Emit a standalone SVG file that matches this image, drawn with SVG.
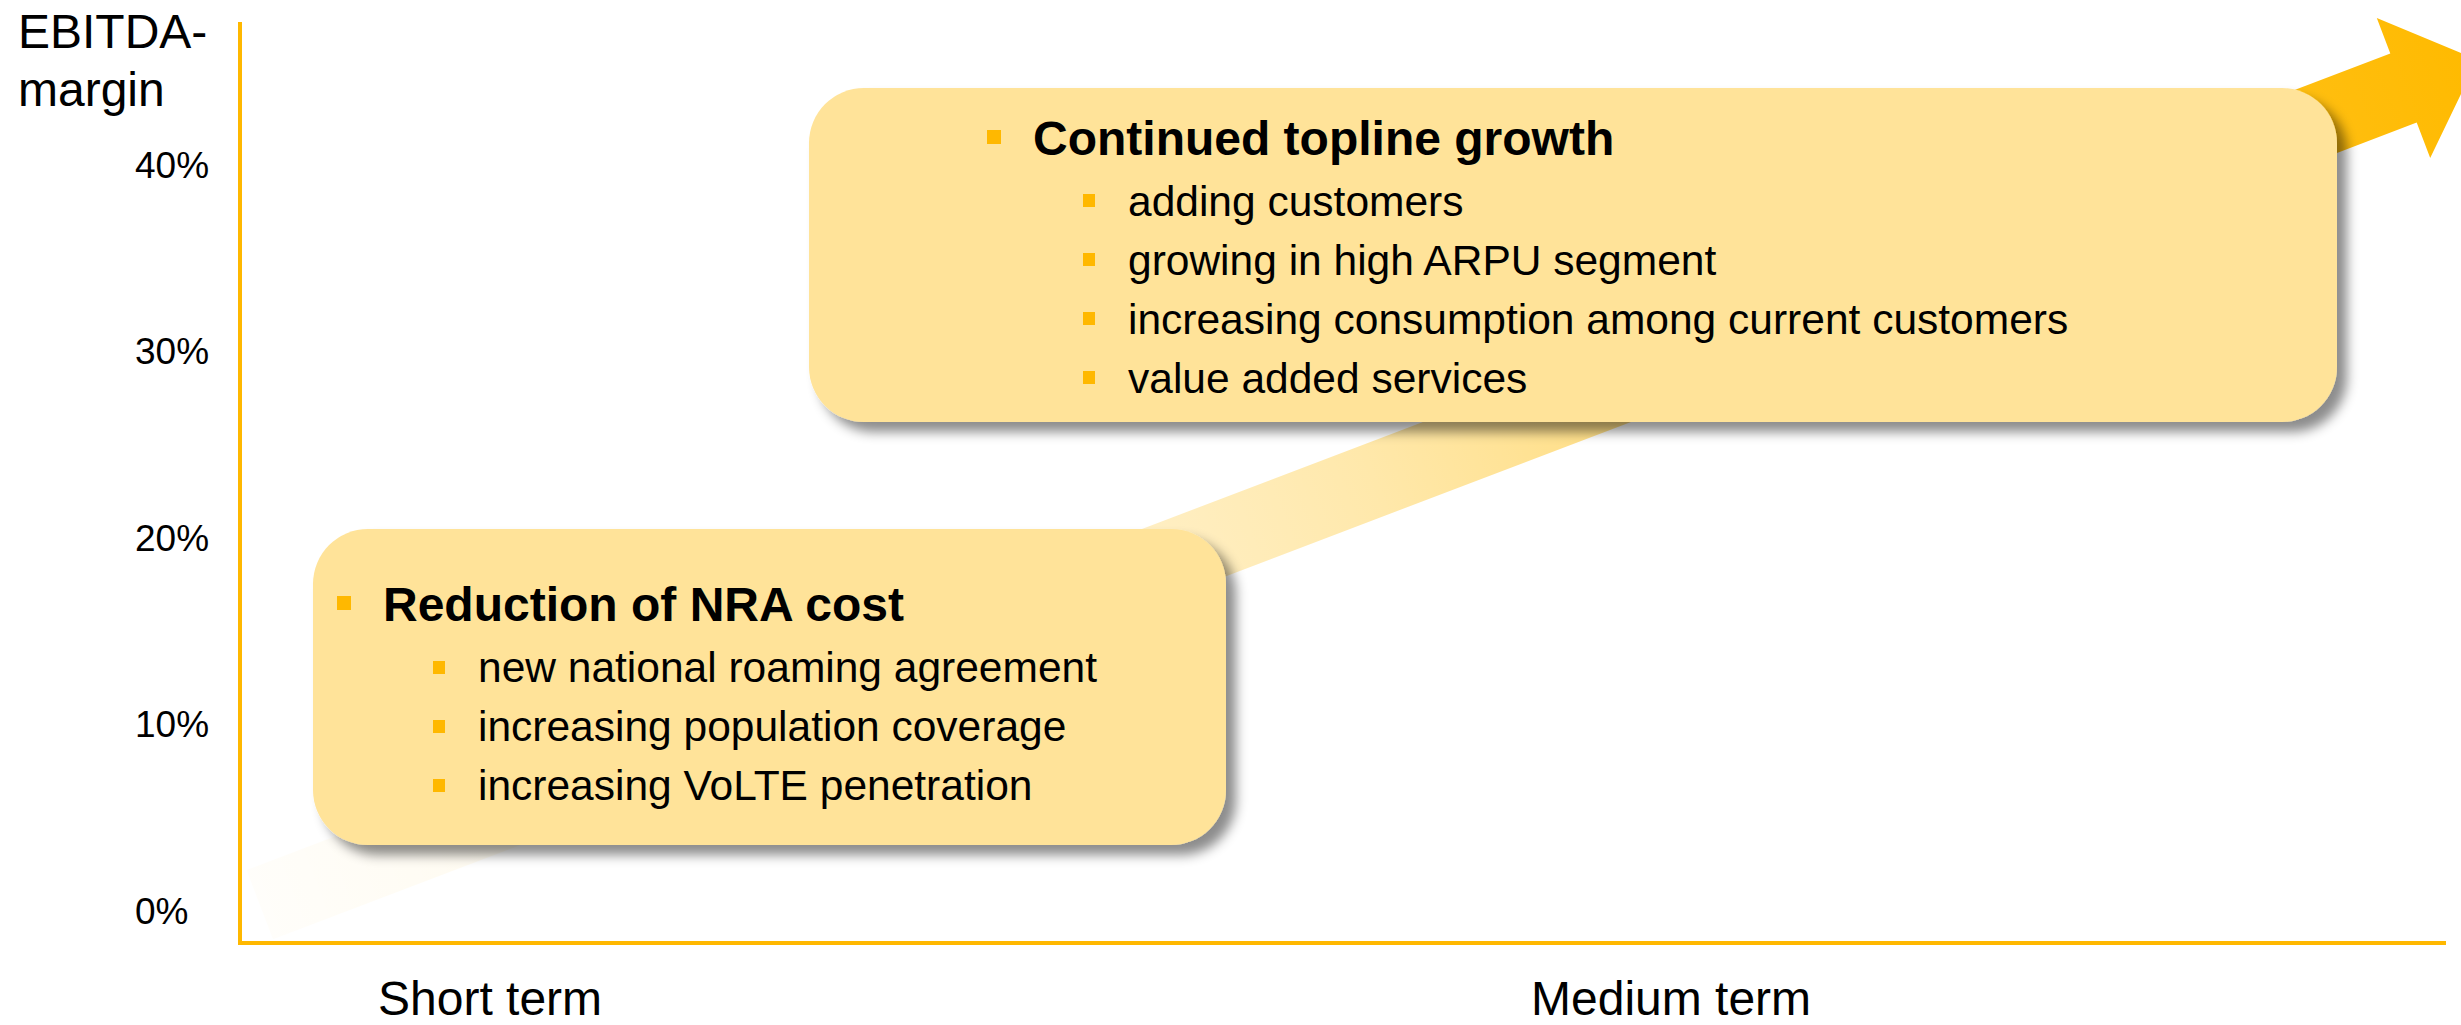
<svg xmlns="http://www.w3.org/2000/svg" width="2461" height="1025" viewBox="0 0 2461 1025">
<defs>
<linearGradient id="arrowGrad" gradientUnits="userSpaceOnUse" x1="260" y1="905" x2="2477" y2="60">
<stop offset="0" stop-color="#FFBA00" stop-opacity="0.02"/>
<stop offset="0.3" stop-color="#FFBA00" stop-opacity="0.13"/>
<stop offset="0.5" stop-color="#FFBA00" stop-opacity="0.33"/>
<stop offset="0.7" stop-color="#FFBA00" stop-opacity="0.6"/>
<stop offset="0.9" stop-color="#FFBA00" stop-opacity="0.92"/>
<stop offset="1" stop-color="#FFBA00" stop-opacity="1"/>
</linearGradient>
<filter id="shadow" x="-5%" y="-10%" width="115%" height="130%">
<feDropShadow dx="10" dy="10" stdDeviation="6" flood-color="#000" flood-opacity="0.45"/>
</filter>
</defs>
<style>
.axis{stroke:#FFB800;stroke-width:4;fill:none}
.lbl{font-family:"Liberation Sans",Arial,sans-serif;font-size:37px;fill:#000}
.big{font-family:"Liberation Sans",Arial,sans-serif;font-size:48px;fill:#000}
.box{fill:#FFE399;filter:url(#shadow)}
.h{font-family:"Liberation Sans",Arial,sans-serif;font-size:48px;font-weight:bold;fill:#000}
.s{font-family:"Liberation Sans",Arial,sans-serif;font-size:42.5px;fill:#000}
.b{fill:#FFB800}
</style>
<g id="axes">
<line class="axis" x1="240" y1="22" x2="240" y2="945"/>
<line class="axis" x1="238" y1="943" x2="2446" y2="943"/>
<text class="big" x="18" y="48">EBITDA-</text>
<text class="big" x="18" y="106">margin</text>
<text class="lbl" x="135" y="178">40%</text>
<text class="lbl" x="135" y="364">30%</text>
<text class="lbl" x="135" y="551">20%</text>
<text class="lbl" x="135" y="737">10%</text>
<text class="lbl" x="135" y="924">0%</text>
<text class="big" x="378" y="1015">Short term</text>
<text class="big" x="1531" y="1015">Medium term</text>
</g>
<g id="connectors">
<polygon fill="url(#arrowGrad)" points="246.6,870.1 2390.3,53.4 2376.8,17.9 2477.3,59.9 2430.2,158.1 2416.7,122.6 273,939.3"/>
</g>
<g id="node-topline">
<rect class="box" x="809" y="88" width="1528" height="334" rx="55" ry="55"/>
<rect class="b" x="987" y="130" width="14" height="14"/>
<text class="h" x="1033" y="155">Continued topline growth</text>
<rect class="b" x="1083" y="194" width="12" height="13"/>
<text class="s" x="1128" y="216">adding customers</text>
<rect class="b" x="1083" y="253" width="12" height="13"/>
<text class="s" x="1128" y="275">growing in high ARPU segment</text>
<rect class="b" x="1083" y="312" width="12" height="13"/>
<text class="s" x="1128" y="334">increasing consumption among current customers</text>
<rect class="b" x="1083" y="371" width="12" height="13"/>
<text class="s" x="1128" y="393">value added services</text>
</g>
<g id="node-nra">
<rect class="box" x="313" y="529" width="913" height="316" rx="55" ry="55"/>
<rect class="b" x="337" y="596" width="14" height="14"/>
<text class="h" x="383" y="621">Reduction of NRA cost</text>
<rect class="b" x="433" y="661" width="12" height="13"/>
<text class="s" x="478" y="682">new national roaming agreement</text>
<rect class="b" x="433" y="720" width="12" height="13"/>
<text class="s" x="478" y="741">increasing population coverage</text>
<rect class="b" x="433" y="779" width="12" height="13"/>
<text class="s" x="478" y="800">increasing VoLTE penetration</text>
</g>
</svg>
